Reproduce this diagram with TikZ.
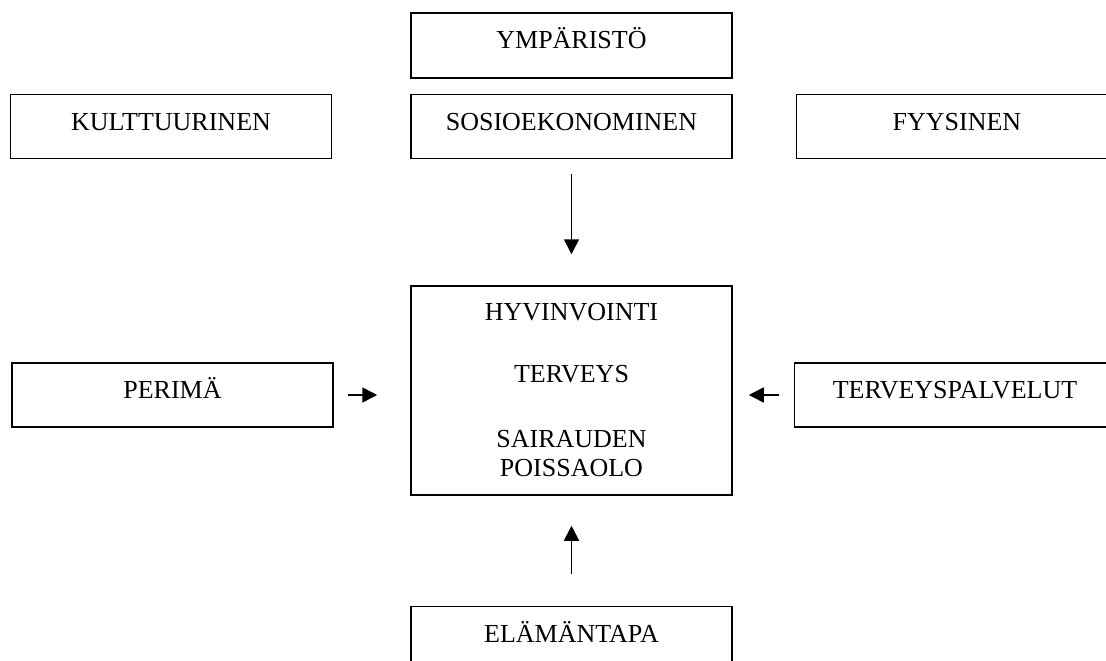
\documentclass[tikz,border=0pt]{standalone}
\usepackage{fontspec}
\setmainfont{Liberation Serif}
\usepackage{tikz}
\usetikzlibrary{arrows.meta, positioning}

\tikzset{
    frame/.style={draw, line width=1.5pt, minimum width=321pt, inner sep=0pt},
    factor/.style={frame, minimum height=64pt, text height=17pt, text depth=10pt},
    arr/.style={-{Triangle[length=15pt, width=15pt]}, line width=1.6pt}
}

\begin{document}
\begin{tikzpicture}[x=1pt, y=1pt, font=\fontsize{26}{29}\selectfont, node distance=15pt]
    \useasboundingbox (0,0) rectangle (1106,-661);

    % ympäristö ja sen osatekijät
    \node[factor, minimum height=65pt] (ymp) at (571.5,-45.5) {YMPÄRISTÖ};
    \node[factor, below=15pt of ymp] (sosio) {SOSIOEKONOMINEN};
    \node[factor, left=78pt of sosio] (kult) {KULTTUURINEN};
    \node[factor, right=63pt of sosio] (fyys) {FYYSINEN};

    % keskellä
    \node[frame, minimum height=209pt, align=center, below=126pt of sosio] (hyv)
        {HYVINVOINTI\\[33pt]TERVEYS\\[36pt]SAIRAUDEN\\POISSAOLO};

    \node[factor] (perima) at (172.5,-395) {PERIMÄ};
    \node[factor] (palv) at (955,-395) {TERVEYSPALVELUT};
    \node[factor, below=110pt of hyv] (tapa) {ELÄMÄNTAPA};

    % nuolet
    \draw[arr, shorten <=15pt, shorten >=31pt] (sosio) -- (hyv);
    \draw[arr, shorten <=14pt, shorten >=33pt] (perima.east) -- (perima.east -| hyv.west);
    \draw[arr, shorten <=15pt, shorten >=16pt] (palv.west) -- (palv.west -| hyv.east);
    \draw[arr, shorten <=32pt, shorten >=30pt] (tapa) -- (hyv);
\end{tikzpicture}
\end{document}
